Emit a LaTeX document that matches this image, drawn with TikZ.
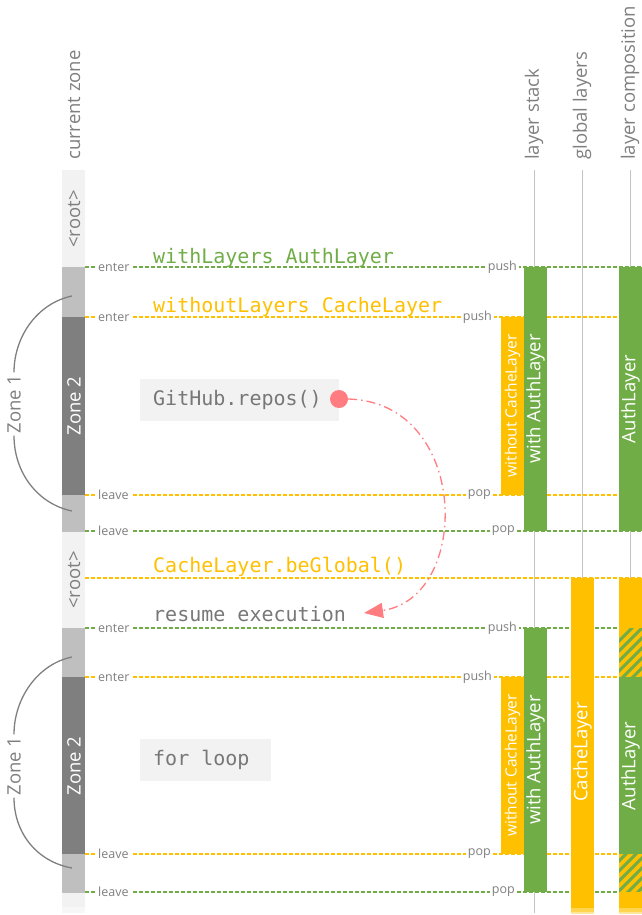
\documentclass[tikz,border=0pt]{standalone}
\usepackage{fontspec}
\setmainfont{Open Sans}
\setmonofont{DejaVu Sans Mono}
\usetikzlibrary{arrows.meta}
\definecolor{lgreen}{HTML}{70AD47}
\definecolor{lyellow}{HTML}{FFC000}
\definecolor{fadeA}{HTML}{FFD54F}
\definecolor{fadeB}{HTML}{FFE699}
\definecolor{lred}{HTML}{FF7C80}
\definecolor{tgrey}{HTML}{7F7F7F}
\definecolor{cgrey}{HTML}{777777}
\definecolor{zlight}{HTML}{F2F2F2}
\definecolor{zlighter}{HTML}{F7F7F7}
\definecolor{zmid}{HTML}{BFBFBF}
\definecolor{zdark}{HTML}{7F7F7F}
\definecolor{vline}{HTML}{C4C4C4}
\begin{document}
\begin{tikzpicture}[x=1pt,y=-1pt,
  hdr/.style={rotate=90, anchor=west, text=tgrey, inner sep=0pt, font=\fontsize{18.5}{20}\selectfont},
  vtext/.style={rotate=90, inner sep=0pt, font=\fontsize{18.5}{20}\selectfont},
  vsmall/.style={rotate=90, inner sep=0pt, text=white, font=\fontsize{15.5}{17}\selectfont},
  evlab/.style={fill=white, inner sep=2pt, text=tgrey, font=\fontsize{12.5}{14}\selectfont},
  gdash/.style={draw=lgreen, dash pattern=on 4pt off 2pt, line width=1.2pt},
  ydash/.style={draw=lyellow, dash pattern=on 4pt off 2pt, line width=1.2pt},
  code/.style={anchor=base west, inner sep=0pt, font=\ttfamily\fontsize{20}{22}\selectfont},
  codebox/.style={fill=zlight, anchor=west, minimum height=42pt, inner sep=0pt},
  codetext/.style={anchor=west, inner sep=0pt, text=cgrey, font=\ttfamily\fontsize{20}{22}\selectfont},
  colline/.style={draw=vline, line width=1pt},
  zcurve/.style={draw=zdark, line width=1.3pt},
]
\useasboundingbox (0,0) rectangle (642,915);

% headers
\node[hdr] (hzone) at (74,160) {current zone};
\node[hdr] (hstack) at (534,160) {layer stack};
\node[hdr] (hglob) at (582,160) {global layers};
\node[hdr] (hcomp) at (630,160) {layer composition};

% vertical column lines
\draw[colline] (534,170) -- (534,913);
\draw[colline] (582,170) -- (582,900);
\draw[colline] (630,170) -- (630,900);

% zone column
\fill[zlight] (62,170) rectangle (85,267);
\fill[zmid] (62,267) rectangle (85,317);
\fill[zdark] (62,317) rectangle (85,495);
\fill[zmid] (62,495) rectangle (85,532);
\fill[zlight] (62,532) rectangle (85,628);
\fill[zmid] (62,628) rectangle (85,677);
\fill[zdark] (62,677) rectangle (85,854);
\fill[zmid] (62,854) rectangle (85,893);
\fill[zlight] (62,893) rectangle (85,907);
\fill[zlighter] (62,907) rectangle (85,913);
\node[vtext, text=tgrey] (root1) at (74,219) {<root>};
\node[vtext, text=tgrey] (root2) at (74,580) {<root>};
\node[vtext, text=white] (zb1) at (74,406) {Zone 2};
\node[vtext, text=white] (zb2) at (74,766) {Zone 2};

% Zone 1 brackets
\node[vtext, text=tgrey, inner sep=2pt] (za1) at (14,404) {Zone 1};
\draw[zcurve] (72,296) .. controls (38,303) and (14,336) .. (za1.east);
\draw[zcurve] (za1.west) .. controls (14,473) and (38,504) .. (72,511);
\node[vtext, text=tgrey, inner sep=2pt] (za2) at (14,766) {Zone 1};
\draw[zcurve] (72,657) .. controls (38,664) and (14,698) .. (za2.east);
\draw[zcurve] (za2.west) .. controls (14,834) and (38,862) .. (72,868);

% dashed event lines
\draw[gdash] (85,267) -- (642,267);
\draw[ydash] (85,317) -- (642,317);
\draw[ydash] (85,495) -- (642,495);
\draw[gdash] (85,531) -- (642,531);
\draw[ydash] (85,578) -- (642,578);
\draw[gdash] (85,628) -- (642,628);
\draw[ydash] (85,677) -- (642,677);
\draw[ydash] (85,854) -- (642,854);
\draw[gdash] (85,892) -- (642,892);

% left labels
\node[evlab, anchor=west] (en1) at (96,267) {enter};
\node[evlab, anchor=west] (en2) at (96,317) {enter};
\node[evlab, anchor=west] (lv1) at (96,495) {leave};
\node[evlab, anchor=west] (lv2) at (96,531) {leave};
\node[evlab, anchor=west] (en3) at (96,628) {enter};
\node[evlab, anchor=west] (en4) at (96,677) {enter};
\node[evlab, anchor=west] (lv3) at (96,854) {leave};
\node[evlab, anchor=west] (lv4) at (96,892) {leave};

% right labels
\node[evlab, anchor=east] (pu1) at (519,267) {push};
\node[evlab, anchor=east] (pu2) at (494,317) {push};
\node[evlab, anchor=east] (po1) at (493,495) {pop};
\node[evlab, anchor=east] (po2) at (517,531) {pop};
\node[evlab, anchor=east] (pu3) at (519,628) {push};
\node[evlab, anchor=east] (pu4) at (494,677) {push};
\node[evlab, anchor=east] (po3) at (493,854) {pop};
\node[evlab, anchor=east] (po4) at (517,892) {pop};

% code texts
\node[code, text=lgreen] (c1) at (153,263) {withLayers AuthLayer};
\node[code, text=lyellow] (c2) at (153,312) {withoutLayers CacheLayer};
\node[codebox, minimum width=199pt] (gh) at (140,400) {};
\node[codetext] (ght) at (153,400) {GitHub.repos()};
\node[code, text=lyellow] (c3) at (153,572) {CacheLayer.beGlobal()};
\node[code, text=cgrey] (c4) at (153,621) {resume execution};
\node[codebox, minimum width=131pt] (fl) at (140,760) {};
\node[codetext] (flt) at (153,760) {for loop};

% layer stack bars (top)
\fill[lyellow] (501,317) rectangle (524,495);
\fill[lgreen] (524,267) rectangle (547,531);
\node[vsmall] (wc1) at (512.5,406) {without CacheLayer};
\node[vtext, text=white] (wa1) at (535.5,399) {with AuthLayer};
\fill[lgreen] (619,267) rectangle (642,531);
\node[vtext, text=white] (ca1) at (630.5,399) {AuthLayer};

% layer stack bars (bottom)
\fill[lyellow] (501,677) rectangle (524,854);
\fill[lgreen] (524,628) rectangle (547,892);
\node[vsmall] (wc2) at (512.5,765.5) {without CacheLayer};
\node[vtext, text=white] (wa2) at (535.5,760) {with AuthLayer};

% global layer bar
\fill[lyellow] (571,578) rectangle (594,908);
\fill[fadeA] (571,908) rectangle (594,912);
\fill[fadeB] (571,912) rectangle (594,914);
\node[vtext, text=white] (gc) at (582.5,752) {CacheLayer};

% composition bottom
\fill[lyellow] (619,578) rectangle (642,628);
\begin{scope}
  \clip (619,628) rectangle (642,677);
  \fill[lyellow] (619,628) rectangle (642,677);
  \foreach \s in {560,570,...,680} \draw[lgreen, line width=3pt] (\s,700) -- (\s+90,610);
\end{scope}
\fill[lgreen] (619,677) rectangle (642,854);
\node[vtext, text=white] (ca2) at (630.5,766) {AuthLayer};
\begin{scope}
  \clip (619,854) rectangle (642,892);
  \fill[lyellow] (619,854) rectangle (642,892);
  \foreach \s in {560,570,...,680} \draw[lgreen, line width=3pt] (\s,910) -- (\s+70,840);
\end{scope}
\fill[lyellow] (619,892) rectangle (642,908);
\fill[fadeA] (619,908) rectangle (642,912);
\fill[fadeB] (619,912) rectangle (642,914);

% resume arrow
\node[circle, fill=lred, inner sep=0pt, minimum size=18pt] (dot) at (339,399) {};
\coordinate (resume) at (364,613);
\draw[lred, line width=1.3pt, dash pattern=on 9pt off 4pt on 1.5pt off 4pt,
      -{Triangle[length=19pt,width=15pt]}]
  (dot.east) .. controls (470,402) and (472,598) .. (resume);
\end{tikzpicture}
\end{document}
